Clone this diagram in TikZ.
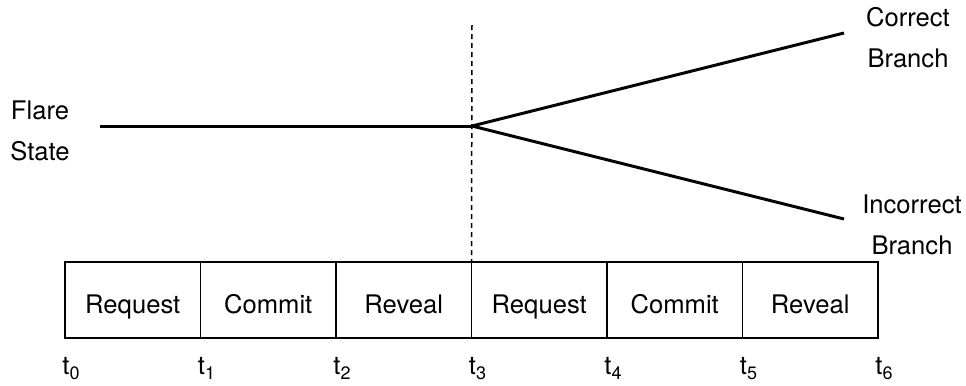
\documentclass[tikz,border=0pt]{standalone}
\usepackage{fontspec}
\setmainfont{TeX Gyre Heros}
% time index with a large, lowered subscript
\newcommand{\tmark}[1]{t\raisebox{-2.6pt}{\fontsize{9pt}{9pt}\selectfont #1}}
\begin{document}
\begin{tikzpicture}[x=0.5pt,y=-0.5pt,
  font=\fontsize{12.8pt}{20.5pt}\selectfont,
  cell/.style={draw,line width=0.9pt,minimum width=67.75pt,minimum height=38pt,
    inner sep=0pt,outer sep=0pt,text height=13pt,text depth=0pt},
  tick/.style={inner sep=0pt,anchor=base},
  path/.style={line width=1.5pt},
  label/.style={align=center,inner sep=0pt}]
  \useasboundingbox (0,0) rectangle (966,386);

  % protocol phases along the time axis
  \foreach \i/\txt in {0/Request,1/Commit,2/Reveal,3/Request,4/Commit,5/Reveal}{
    \node[cell] (c\i) at ({65+135.5*(\i+0.5)},300) {\txt};
  }

  % time marks under the phase boundaries
  \foreach \i in {0,...,6}{
    \node[tick] (t\i) at ({71+135.5*\i},374) {\tmark{\i}};
  }

  % state trajectory and its split into two branches
  \coordinate (fs) at (100,126);
  \coordinate (split) at (472,126);
  \coordinate (cb) at (844,33);
  \coordinate (ib) at (844,219);
  \coordinate (dtop) at (472,25);

  \draw[dashed,line width=0.75pt,dash pattern=on 2.5pt off 2pt] (dtop) -- (c3.north west);
  \draw[path] (fs) -- (split);
  \draw[path] (split) -- (cb);
  \draw[path] (split) -- (ib);

  \node[label] (flare) at (40,131) {Flare\\State};
  \node[label] (corr) at (908,38) {Correct\\Branch};
  \node[label] (incorr) at (912,225) {Incorrect\\Branch};
\end{tikzpicture}
\end{document}
